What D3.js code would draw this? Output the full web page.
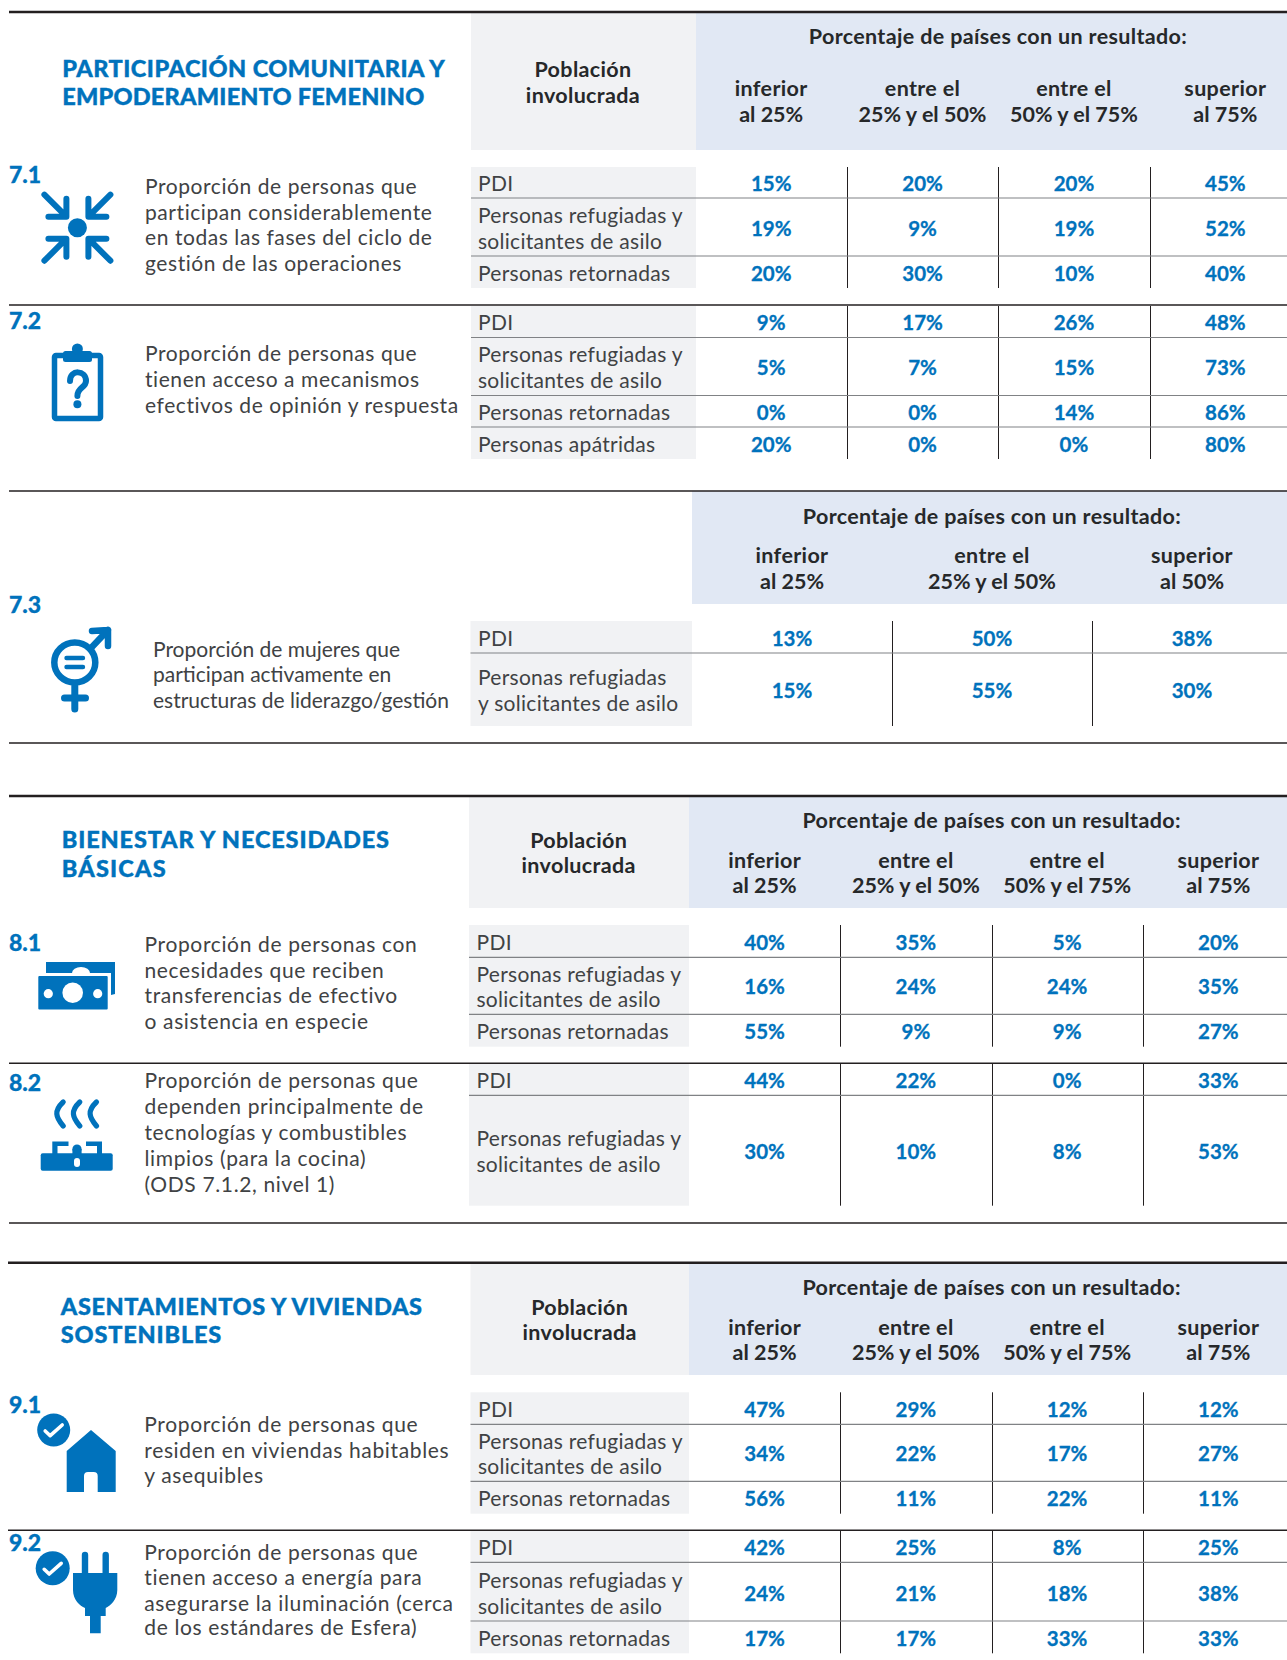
<!DOCTYPE html>
<html>
<head>
<meta charset="utf-8">
<script src="https://cdnjs.cloudflare.com/ajax/libs/d3/7.8.5/d3.min.js"></script>
<style>
  html, body { margin: 0; padding: 0; background: #fff; }
  svg { display: block; }
  text { font-family: Lato, "Open Sans", sans-serif; }
  .title { font-weight: 900; font-size: 23.5px; fill: #0072bc; stroke: #0072bc; stroke-width: 0.4px; }
  .num { font-weight: 900; font-size: 23px; fill: #0072bc; stroke: #0072bc; stroke-width: 0.3px; }
  .desc { font-size: 21px; fill: #404244; }
  .pop { font-size: 21px; fill: #404244; letter-spacing: 0.28px; }
  .head { font-weight: 700; font-size: 21.5px; fill: #26282a; text-anchor: middle; letter-spacing: 0.35px; }
  .head_low { letter-spacing: 0; }
  .val { font-weight: 700; font-size: 20.5px; fill: #0072bc; stroke: #0072bc; stroke-width: 0.3px; text-anchor: middle; }
</style>
</head>
<body>
<svg id="chart" width="1287" height="1660"></svg>
<script>
var blue = "#0072bc";
var head_title = "Porcentaje de países con un resultado:";
var pop_head = ["Población", "involucrada"];

var head_four_top = ["inferior", "entre el", "entre el", "superior"];
var head_four_bottom = ["al 25%", "25% y el 50%", "50% y el 75%", "al 75%"];
var head_three_top = ["inferior", "entre el", "superior"];
var head_three_bottom = ["al 25%", "25% y el 50%", "al 50%"];

var pop_idp = ["PDI"];
var pop_ref = ["Personas refugiadas y", "solicitantes de asilo"];
var pop_ref_alt = ["Personas refugiadas", "y solicitantes de asilo"];
var pop_ret = ["Personas retornadas"];
var pop_sta = ["Personas apátridas"];

var values_7_1 = [[15, 20, 20, 45], [19, 9, 19, 52], [20, 30, 10, 40]];
var values_7_2 = [[9, 17, 26, 48], [5, 7, 15, 73], [0, 0, 14, 86], [20, 0, 0, 80]];
var values_7_3 = [[13, 50, 38], [15, 55, 30]];
var values_8_1 = [[40, 35, 5, 20], [16, 24, 24, 35], [55, 9, 9, 27]];
var values_8_2 = [[44, 22, 0, 33], [30, 10, 8, 53]];
var values_9_1 = [[47, 29, 12, 12], [34, 22, 17, 27], [56, 11, 22, 11]];
var values_9_2 = [[42, 25, 8, 25], [24, 21, 18, 38], [17, 17, 33, 33]];

var desc_7_1 = ["Proporción de personas que", "participan considerablemente", "en todas las fases del ciclo de", "gestión de las operaciones"];
var desc_7_2 = ["Proporción de personas que", "tienen acceso a mecanismos", "efectivos de opinión y respuesta"];
var desc_7_3 = ["Proporción de mujeres que", "participan activamente en", "estructuras de liderazgo/gestión"];
var desc_8_1 = ["Proporción de personas con", "necesidades que reciben", "transferencias de efectivo", "o asistencia en especie"];
var desc_8_2 = ["Proporción de personas que", "dependen principalmente de", "tecnologías y combustibles", "limpios (para la cocina)", "(ODS 7.1.2, nivel 1)"];
var desc_9_1 = ["Proporción de personas que", "residen en viviendas habitables", "y asequibles"];
var desc_9_2 = ["Proporción de personas que", "tienen acceso a energía para", "asegurarse la iluminación (cerca", "de los estándares de Esfera)"];

var svg = d3.select("#chart");

// Header bands, one per table head
var heads = [
  {pop_x: 471, pop_mid: 583, pop_y: [77, 102.5], band_x: 696, top: 13, bottom: 150, mid: 998, title_y: 44, head_y: [96, 122], range: [695.5, 1301], top_labels: head_four_top, bottom_labels: head_four_bottom},
  {band_x: 692, top: 491, bottom: 604, mid: 992, title_y: 524, head_y: [563, 588.7], range: [692, 1292], top_labels: head_three_top, bottom_labels: head_three_bottom},
  {pop_x: 469, pop_mid: 578.7, pop_y: [848.3, 873.3], band_x: 689, top: 797, bottom: 908, mid: 991.6, title_y: 828.3, head_y: [868, 893.3], range: [689, 1294], top_labels: head_four_top, bottom_labels: head_four_bottom},
  {pop_x: 470.5, pop_mid: 579.7, pop_y: [1315, 1340], band_x: 689, top: 1264, bottom: 1375, mid: 991.6, title_y: 1295, head_y: [1335, 1360], range: [689, 1294], top_labels: head_four_top, bottom_labels: head_four_bottom}
];

// Row blocks: data from the arrays above, positions
var blocks = [
  {id: "7.1", id_x: 9, id_y: 183, desc: desc_7_1, desc_x: 145, desc_ls: 0.57, desc_y: [194, 219.5, 245, 271], rows: [pop_idp, pop_ref, pop_ret], values: values_7_1, edges: [167, 198, 256, 288], label_y: [[191], [222.7, 249.3], [281]], val_y: [191, 236, 281], pop_x: 471, pop_end: 696, text_x: 478, range: [695.5, 1301]},
  {id: "7.2", id_x: 9, id_y: 329, desc: desc_7_2, desc_x: 145, desc_ls: 0.57, desc_y: [361, 387, 412.7], rows: [pop_idp, pop_ref, pop_ret, pop_sta], values: values_7_2, edges: [306, 337.5, 395.5, 427, 459], label_y: [[330], [361.7, 388.3], [420], [451.7]], val_y: [330, 375, 420, 451.7], pop_x: 471, pop_end: 696, text_x: 478, range: [695.5, 1301]},
  {id: "7.3", id_x: 9, id_y: 613, desc: desc_7_3, desc_x: 153, desc_ls: 0, desc_y: [657, 682, 708], rows: [pop_idp, pop_ref_alt], values: values_7_3, edges: [621, 653, 726], label_y: [[645.7], [685, 711]], val_y: [646, 698], pop_x: 470.5, pop_end: 692, text_x: 478, range: [692, 1292]},
  {id: "8.1", id_x: 9, id_y: 950.7, desc: desc_8_1, desc_x: 144.5, desc_ls: 0.64, desc_y: [952.3, 978.3, 1003.3, 1029.3], rows: [pop_idp, pop_ref, pop_ret], values: values_8_1, edges: [925, 957.3, 1014.3, 1046.7], label_y: [[950], [982.3, 1007.3], [1039]], val_y: [950, 994, 1039], pop_x: 469, pop_end: 689, text_x: 476.5, range: [689, 1294]},
  {id: "8.2", id_x: 9, id_y: 1090.7, desc: desc_8_2, desc_x: 144.5, desc_ls: 0.64, desc_y: [1088.3, 1114, 1139.6, 1165.6, 1191.6], rows: [pop_idp, pop_ref], values: values_8_2, edges: [1064, 1095.3, 1205.7], label_y: [[1088.3], [1146.3, 1172.3]], val_y: [1088.3, 1159.3], pop_x: 469, pop_end: 689, text_x: 476.5, range: [689, 1294]},
  {id: "9.1", id_x: 9, id_y: 1413.3, desc: desc_9_1, desc_x: 144.3, desc_ls: 0.64, desc_y: [1432.3, 1458.3, 1483.3], rows: [pop_idp, pop_ref, pop_ret], values: values_9_1, edges: [1392.3, 1424.3, 1481.3, 1513.7], label_y: [[1416.7], [1449, 1474.3], [1506]], val_y: [1416.7, 1461, 1506], pop_x: 470.5, pop_end: 689, text_x: 478, range: [689, 1294]},
  {id: "9.2", id_x: 9, id_y: 1551.3, desc: desc_9_2, desc_x: 144.3, desc_ls: 0.64, desc_y: [1559.7, 1585, 1610.7, 1635.3], rows: [pop_idp, pop_ref, pop_ret], values: values_9_2, edges: [1531, 1562.3, 1621, 1653.3], label_y: [[1555], [1588.3, 1614.3], [1646]], val_y: [1555, 1601, 1646], pop_x: 470.5, pop_end: 689, text_x: 478, range: [689, 1294]}
];

var titles = [
  {lines: ["PARTICIPACIÓN COMUNITARIA Y", "EMPODERAMIENTO FEMENINO"], x: 62.3, y: [76.7, 105.3], width: [382.5, 362]},
  {lines: ["BIENESTAR Y NECESIDADES", "BÁSICAS"], x: 61.7, y: [848, 876.7], width: [327.3, 104]},
  {lines: ["ASENTAMIENTOS Y VIVIENDAS", "SOSTENIBLES"], x: 60.8, y: [1314.7, 1343.4], width: [361.2, 160.5]}
];

var rules = [
  {x: 9, y: 12, w: 2.5}, {x: 9, y: 305, w: 1.5}, {x: 9, y: 491, w: 1.5}, {x: 9, y: 743, w: 1.5},
  {x: 9, y: 796, w: 2.5}, {x: 9, y: 1063.3, w: 1.5}, {x: 9, y: 1223, w: 1.5},
  {x: 8, y: 1262.7, w: 2.5}, {x: 8, y: 1530.3, w: 1.5}
];

function draw_heads()
{
  heads.forEach(function (h)
  {
    if (h.pop_x)
    {
      svg.append("rect").attr("x", h.pop_x).attr("y", h.top).attr("width", h.band_x - h.pop_x)
        .attr("height", h.bottom - h.top).attr("fill", "#f1f2f4");
      svg.selectAll(null).data(pop_head).enter().append("text").attr("class", "head")
        .attr("x", h.pop_mid).attr("y", function (d, i) { return h.pop_y[i]; }).text(function (d) { return d; });
    }
    svg.append("rect").attr("x", h.band_x).attr("y", h.top).attr("width", 1287 - h.band_x)
      .attr("height", h.bottom - h.top).attr("fill", "#e1e8f4");
    svg.append("text").attr("class", "head").attr("x", h.mid).attr("y", h.title_y).text(head_title);

    var x = d3.scaleBand().domain(d3.range(h.top_labels.length)).range(h.range);
    [h.top_labels, h.bottom_labels].forEach(function (labels, line)
    {
      svg.selectAll(null).data(labels).enter().append("text")
        .attr("class", line ? "head head_low" : "head")
        .attr("x", function (d, i) { return x(i) + x.bandwidth() / 2; })
        .attr("y", h.head_y[line])
        .text(function (d) { return d; });
    });
  });
}

function draw_block(b)
{
  var x = d3.scaleBand().domain(d3.range(b.values[0].length)).range(b.range);
  var y = d3.scaleOrdinal().domain(d3.range(b.rows.length)).range(b.val_y);
  var top = b.edges[0];
  var bottom = b.edges[b.edges.length - 1];

  svg.append("rect").attr("x", b.pop_x).attr("y", top).attr("width", b.pop_end - b.pop_x)
    .attr("height", bottom - top).attr("fill", "#f1f2f4");

  // column separators, snapped so they stay dark
  svg.selectAll(null).data(d3.range(1, b.values[0].length)).enter().append("line")
    .attr("x1", function (d) { return Math.round(x(d)) + 0.5; })
    .attr("x2", function (d) { return Math.round(x(d)) + 0.5; })
    .attr("y1", top).attr("y2", bottom)
    .attr("stroke", "#231f20").attr("stroke-width", 1);

  // row separators
  svg.selectAll(null).data(b.edges.slice(1, -1)).enter().append("line")
    .attr("x1", b.pop_x).attr("x2", 1287)
    .attr("y1", function (d) { return d; }).attr("y2", function (d) { return d; })
    .attr("stroke", "#808285").attr("stroke-width", 1.2);

  b.rows.forEach(function (row, r)
  {
    svg.selectAll(null).data(row).enter().append("text").attr("class", "pop")
      .attr("x", b.text_x).attr("y", function (d, i) { return b.label_y[r][i]; })
      .text(function (d) { return d; });

    svg.selectAll(null).data(b.values[r]).enter().append("text").attr("class", "val")
      .attr("x", function (d, i) { return x(i) + x.bandwidth() / 2; })
      .attr("y", y(r))
      .text(function (d) { return d + "%"; });
  });

  svg.append("text").attr("class", "num").attr("x", b.id_x).attr("y", b.id_y).text(b.id);

  svg.selectAll(null).data(b.desc).enter().append("text").attr("class", "desc")
    .attr("x", b.desc_x).attr("y", function (d, i) { return b.desc_y[i]; })
    .style("letter-spacing", b.desc_ls + "px")
    .text(function (d) { return d; });
}

function draw_titles()
{
  titles.forEach(function (t)
  {
    t.lines.forEach(function (line, i)
    {
      svg.append("text").attr("class", "title").attr("x", t.x).attr("y", t.y[i])
        .attr("textLength", t.width[i]).attr("lengthAdjust", "spacing").text(line);
    });
  });
}

function draw_rules()
{
  svg.selectAll(null).data(rules).enter().append("line")
    .attr("x1", function (d) { return d.x; }).attr("x2", 1287)
    .attr("y1", function (d) { return d.y; }).attr("y2", function (d) { return d.y; })
    .attr("stroke", "#231f20").attr("stroke-width", function (d) { return d.w; });
}

// Pictograms, hand drawn
function stroke_path(g, d, w, color)
{
  return g.append("path").attr("d", d).attr("fill", "none")
    .attr("stroke", color || blue).attr("stroke-width", w)
    .attr("stroke-linecap", "round").attr("stroke-linejoin", "round");
}

function check_badge(cx, cy, r)
{
  var g = svg.append("g").attr("transform", "translate(" + cx + "," + cy + ")");
  g.append("circle").attr("r", r).attr("fill", blue);
  stroke_path(g, "M-8.5,1 L-3.5,5.7 L8.5,-5", 3.6, "#fff");
}

function icon_arrows()
{
  var g = svg.append("g").attr("transform", "translate(77.4,227.7)");
  g.append("circle").attr("r", 9.5).attr("fill", blue);
  [[1, 1], [-1, 1], [1, -1], [-1, -1]].forEach(function (s)
  {
    var a = g.append("g").attr("transform", "scale(" + s[0] + "," + s[1] + ")");
    stroke_path(a, "M-33,-33 L-12,-12 M-11,-29 L-11,-11 L-29,-11", 6);
  });
}

function icon_clipboard()
{
  var g = svg.append("g");
  g.append("rect").attr("x", 54.5).attr("y", 355.5).attr("width", 46).attr("height", 63).attr("rx", 1.5)
    .attr("fill", "none").attr("stroke", blue).attr("stroke-width", 5.5);
  g.append("rect").attr("x", 63).attr("y", 351).attr("width", 29).attr("height", 11).attr("rx", 2.5).attr("fill", blue);
  g.append("circle").attr("cx", 77.4).attr("cy", 349).attr("r", 5.5).attr("fill", blue);
  stroke_path(g, "M70,381 C70,369 86,370 86,381 C86,388 77.4,387 77.4,396", 6);
  g.append("circle").attr("cx", 77.4).attr("cy", 404.3).attr("r", 4).attr("fill", blue);
}

function icon_gender()
{
  var g = svg.append("g");
  g.append("ellipse").attr("cx", 74.8).attr("cy", 662.5).attr("rx", 20.5).attr("ry", 20)
    .attr("fill", "none").attr("stroke", blue).attr("stroke-width", 6.5);
  stroke_path(g, "M66.5,658 L83,658 M66.5,667 L83,667", 4.4);
  stroke_path(g, "M74.8,686 L74.8,709 M64.5,698 L85.5,698", 7);
  stroke_path(g, "M91,648 L108,630 M92,631 L108,630 L108,646", 6.5);
}

function icon_money()
{
  var g = svg.append("g");
  g.append("path").attr("fill", blue)
    .attr("d", "M46,962 H115 V994 L111,995 V973 H46 Z");
  g.append("rect").attr("x", 38.3).attr("y", 976).attr("width", 69.4).attr("height", 33.5).attr("rx", 1).attr("fill", blue);
  g.append("circle").attr("cx", 72.7).attr("cy", 992.7).attr("r", 10.3).attr("fill", "#fff");
  g.append("circle").attr("cx", 48.3).attr("cy", 993.7).attr("r", 4.6).attr("fill", "#fff");
  g.append("circle").attr("cx", 97.7).attr("cy", 993.7).attr("r", 4.6).attr("fill", "#fff");
  g.append("path").attr("fill", "#fff").attr("d", "M72,973 a9,6 0 0 1 18,0 Z");
}

function icon_stove()
{
  var g = svg.append("g");
  [60.7, 77.3, 94].forEach(function (x)
  {
    stroke_path(g, "M" + (x + 2.5) + ",1102 C" + (x - 7) + ",1111 " + (x - 5) + ",1117 " + (x + 2.5) + ",1126", 5.2);
  });
  g.append("rect").attr("x", 40.7).attr("y", 1153.3).attr("width", 72).attr("height", 17.4).attr("rx", 2).attr("fill", blue);
  g.append("path").attr("fill", blue).attr("d", "M52.3,1154 V1141.5 H68.5 V1146 H57.5 V1154 Z");
  g.append("path").attr("fill", blue).attr("d", "M102,1154 V1141.5 H86 V1146 H97 V1154 Z");
  g.append("circle").attr("cx", 77).attr("cy", 1149).attr("r", 4.6).attr("fill", blue);
  g.append("rect").attr("x", 72.4).attr("y", 1149).attr("width", 9.2).attr("height", 6).attr("fill", blue);
  g.append("rect").attr("x", 74).attr("y", 1158).attr("width", 6).attr("height", 9).attr("rx", 3).attr("fill", "#fff");
}

function icon_house()
{
  check_badge(53.7, 1430, 16.5);
  svg.append("path").attr("fill", blue).attr("fill-rule", "evenodd")
    .attr("d", "M91,1430 L115.7,1451 V1492 H97.7 V1476 a4,4 0 0 0 -4,-4 H88 a4,4 0 0 0 -4,4 V1492 H66.7 V1451 Z");
}

function icon_plug()
{
  check_badge(52.7, 1568.3, 17);
  var g = svg.append("g");
  stroke_path(g, "M85,1555 V1575 M105.7,1555 V1575", 6.4);
  g.append("path").attr("fill", blue)
    .attr("d", "M73,1573 H117.3 V1590 C117.3,1600 110,1606 105.7,1608 V1616 H100.7 V1633.3 H90 V1616 H85 V1608 C80,1606 73,1600 73,1590 Z");
}

function build_chart()
{
  draw_heads();
  blocks.forEach(draw_block);
  draw_titles();
  draw_rules();
  icon_arrows();
  icon_clipboard();
  icon_gender();
  icon_money();
  icon_stove();
  icon_house();
  icon_plug();
}

build_chart();
</script>
</body>
</html>
